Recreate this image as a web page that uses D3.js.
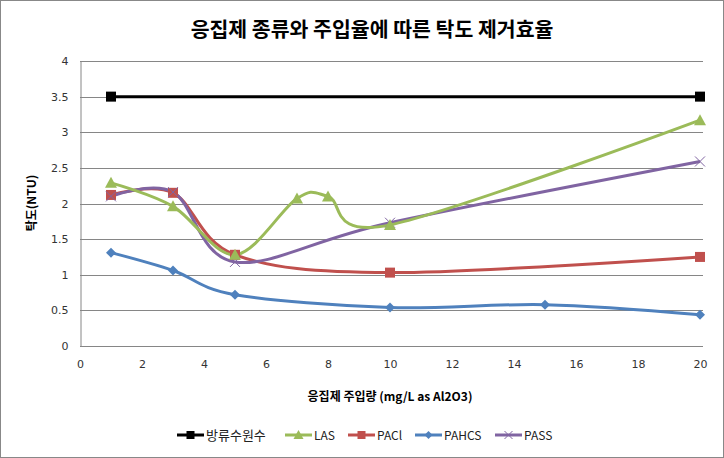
<!DOCTYPE html>
<html><head><meta charset="utf-8">
<script src="https://cdn.jsdelivr.net/npm/d3@7"></script>
<style>body{margin:0;background:#fff}svg{display:block}text{font-family:"Noto Sans CJK KR","Noto Sans",sans-serif}</style>
</head><body>
<script>
const title = "응집제 종류와 주입율에 따른 탁도 제거효율";
const xLabel = "응집제 주입량 (mg/L as Al2O3)";
const yLabel = "탁도(NTU)";
const xTicks = [0,2,4,6,8,10,12,14,16,18,20];
const yTicks = [0,0.5,1,1.5,2,2.5,3,3.5,4];
const seriesNames = ["방류수원수","LAS","PACl","PAHCS","PASS"];
const seriesColors = ["#000000","#9BBB59","#C0504D","#4F81BD","#8064A2"];
const seriesMarkers = ["square","triangle","square","diamond","cross"];
const rawX = [1,20];
const rawY = [3.5,3.5];
const lasX = [1,3,5,7,8,10,20];
const lasY = [2.29,1.96,1.28,2.07,2.1,1.7,3.17];
const paclX = [1,3,5,10,20];
const paclY = [2.12,2.15,1.28,1.03,1.25];
const pahcsX = [1,3,5,10,15,20];
const pahcsY = [1.31,1.06,0.72,0.54,0.58,0.44];
const passX = [1,3,5,10,20];
const passY = [2.1,2.16,1.18,1.73,2.59];

const series = [[rawX,rawY],[lasX,lasY],[paclX,paclY],[pahcsX,pahcsY],[passX,passY]]
  .map((s,i)=>({name:seriesNames[i],color:seriesColors[i],marker:seriesMarkers[i],
     pts:s[0].map((x,j)=>({x,y:s[1][j]}))}));

const W=724,H=458;
const svg=d3.select("body").append("svg").attr("width",W).attr("height",H);
svg.append("rect").attr("x",0.5).attr("y",0.5).attr("width",W-1).attr("height",H-1).attr("fill","#fff").attr("stroke","#888");

const x=d3.scaleLinear().domain([0,20]).range([80,700]);
const y=d3.scaleLinear().domain([0,4]).range([346,61]);

svg.append("text").attr("x",372).attr("y",37).attr("text-anchor","middle").attr("font-size",20.5).attr("font-weight","bold").text(title);

// gridlines
svg.append("g").selectAll("line").data(yTicks.filter(d=>d>0)).join("line")
  .attr("x1",x(0)).attr("x2",703).attr("y1",d=>Math.round(y(d))+0.5).attr("y2",d=>Math.round(y(d))+0.5)
  .attr("stroke","#868686").attr("stroke-width",1);

// axes
const ya=svg.append("g").attr("transform",`translate(${x(0)+0.5},0)`)
  .call(d3.axisLeft(y).tickValues(yTicks).tickSize(0).tickPadding(12).tickFormat(d3.format("")));
const xa=svg.append("g").attr("transform",`translate(0,${y(0)+0.5})`)
  .call(d3.axisBottom(x).tickValues(xTicks).tickSize(0).tickPadding(14));
[ya,xa].forEach(a=>{a.select(".domain").attr("stroke","#868686");
  a.selectAll("text").attr("font-size",11).attr("fill","#333").style("font-family","'DejaVu Sans',sans-serif");});
xa.select(".domain").attr("d",`M${x(0)},0H703`);

svg.append("text").attr("x",390).attr("y",401).attr("text-anchor","middle").attr("font-size",12).attr("font-weight","bold").text(xLabel);
svg.append("text").attr("transform","translate(36,203) rotate(-90)").attr("text-anchor","middle").attr("font-size",12).attr("font-weight","bold").text(yLabel);

function marker(g,type,color,size){
  const s=size||5;
  if(type==="square") g.append("rect").attr("x",-s).attr("y",-s).attr("width",2*s).attr("height",2*s).attr("fill",color);
  else if(type==="triangle") g.append("path").attr("d",`M0,${-s-1}L${s+1},${s}L${-s-1},${s}Z`).attr("fill",color);
  else if(type==="diamond") g.append("path").attr("d",`M0,${-s}L${s},0L0,${s}L${-s},0Z`).attr("fill",color);
  else if(type==="cross") g.append("path").attr("d",`M${-s},${-s}L${s},${s}M${-s},${s}L${s},${-s}`).attr("stroke",color).attr("stroke-width",1);
}

const line=d3.line().x(d=>x(d.x)).y(d=>y(d.y)).curve(d3.curveCatmullRom.alpha(0));
const order=[3,2,4,1,0];
order.forEach(i=>{
  const s=series[i];
  svg.append("path").datum(s.pts).attr("d",line).attr("fill","none").attr("stroke",s.color).attr("stroke-width",3);
});
order.forEach(i=>{
  const s=series[i];
  s.pts.forEach(p=>{
    const g=svg.append("g").attr("transform",`translate(${x(p.x)},${y(p.y)})`);
    marker(g,s.marker,s.color,5);
  });
});

// legend
const legX=[177,285,348,415,495];
series.forEach((s,i)=>{
  const g=svg.append("g").attr("transform",`translate(${legX[i]},435)`);
  g.append("line").attr("x1",0).attr("x2",27).attr("stroke",s.color).attr("stroke-width",3);
  const m=g.append("g").attr("transform","translate(13.5,0)");
  marker(m,s.marker,s.color,4);
  g.append("text").attr("x",29).attr("y",4.5).attr("font-size",i===0?13:12).attr("fill","#222").text(s.name);
});
</script>
</body></html>
